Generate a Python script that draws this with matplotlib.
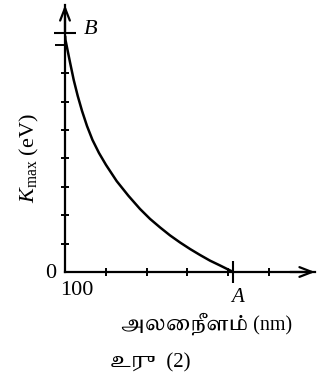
import matplotlib
matplotlib.use("Agg")
import matplotlib.pyplot as plt
import matplotlib.transforms as mtransforms

# ---- data ----
wavelength_nm = [100.3, 100.6, 106.1, 110.7, 115.6, 120.9, 127.0, 133.7, 141.7, 150.3, 163.4,
                 177.9, 192.0, 204.3, 216.6, 228.8, 241.1, 253.4, 265.6, 277.9, 290.2,
                 300.0, 306.5]
k_max_ev = [8.30, 8.17, 7.39, 6.76, 6.20, 5.67, 5.14, 4.65, 4.19, 3.77, 3.20,
            2.68, 2.22, 1.87, 1.57, 1.29, 1.04, 0.81, 0.60, 0.40, 0.23,
            0.09, 0.0]
x_ticks = [150, 200, 250, 300, 350]
y_ticks = [1, 2, 3, 4, 5, 6, 7]
y_tick_out = [8]
point_B = (100, 8.42)
point_A = (306.5, 0)
label_B = "B"
label_A = "A"
origin_x_label = "100"
origin_y_label = "0"
y_label = r"$K_{\mathrm{max}}$ (eV)"
x_label = "அலைநீளம் (nm)"
caption = "உரு  (2)"

serif = "Liberation Serif"
tamil_fams = [serif, "Tiro Tamil", "Noto Serif Tamil", "DejaVu Sans"]
plt.rcParams["font.family"] = [serif, "DejaVu Sans"]
plt.rcParams["mathtext.fontset"] = "custom"
plt.rcParams["mathtext.rm"] = serif
plt.rcParams["mathtext.it"] = serif + ":italic"

fig = plt.figure(figsize=(3.23, 3.81), dpi=100)
ax = fig.add_axes([65 / 323, 1 - 272 / 381, 250 / 323, 267 / 381])
ax.set_xlim(100, 406.7)
ax.set_ylim(0, 9.40)
for s in ["top", "right"]:
    ax.spines[s].set_visible(False)
for s in ["left", "bottom"]:
    ax.spines[s].set_linewidth(1.6)
    ax.spines[s].set_color("black")
ax.patch.set_alpha(0)

ax.plot(wavelength_nm, k_max_ev, color="black", lw=1.8, solid_capstyle="round",
        solid_joinstyle="round", clip_on=False)

ax.set_xticks(x_ticks)
ax.set_xticklabels([])
ax.set_yticks(y_ticks)
ax.set_yticklabels([])
ax.tick_params(axis="both", which="major", direction="inout", length=6, width=1.4, color="black")
ax.set_yticks(y_tick_out, minor=True)
ax.tick_params(axis="y", which="minor", direction="out", length=7, width=1.4)


def offset(dx, dy):
    return ax.transData + mtransforms.ScaledTranslation(dx / 100, dy / 100, fig.dpi_scale_trans)


# B and A marks
ax.plot([point_B[0]], [point_B[1]], marker="_", markersize=16, markeredgewidth=1.5,
        color="black", clip_on=False)
ax.plot([point_A[0]], [point_A[1]], marker="|", markersize=16, markeredgewidth=1.5,
        color="black", clip_on=False)
ax.text(point_B[0], point_B[1], label_B, fontstyle="italic", fontsize=16, va="center",
        ha="left", transform=offset(19, 3))
ax.text(point_A[0], point_A[1], label_A, fontstyle="italic", fontsize=15, va="center",
        ha="center", transform=offset(4, -25))

# arrows
arrow_style = dict(arrowstyle="->,head_length=0.9,head_width=0.35", lw=1.6, color="black",
                   shrinkA=0, shrinkB=0)
ax.annotate("", xy=(1.0, 0), xycoords=("axes fraction", "data"), xytext=(0.9, 0),
            textcoords=("axes fraction", "data"), arrowprops=arrow_style)
ax.annotate("", xy=(100, 1.0), xycoords=("data", "axes fraction"), xytext=(100, 0.9),
            textcoords=("data", "axes fraction"), arrowprops=arrow_style)

# origin labels
ax.text(100, 0, origin_y_label, fontsize=16, ha="right", va="center", transform=offset(-9, -2))
ax.text(100, 0, origin_x_label, fontsize=16, ha="left", va="top", transform=offset(-5, -9))

# axis labels
fig.text(29 / 323, 1 - 158 / 381, y_label, rotation=90, fontsize=16, ha="center", va="center")
fig.text(207 / 323, 1 - 324 / 381, x_label, fontsize=14.5, ha="center", va="center",
         family=tamil_fams)
fig.text(150 / 323, 1 - 363 / 381, caption, fontsize=15, ha="center", va="center",
         family=tamil_fams)

fig.savefig("out.png", dpi=100)
